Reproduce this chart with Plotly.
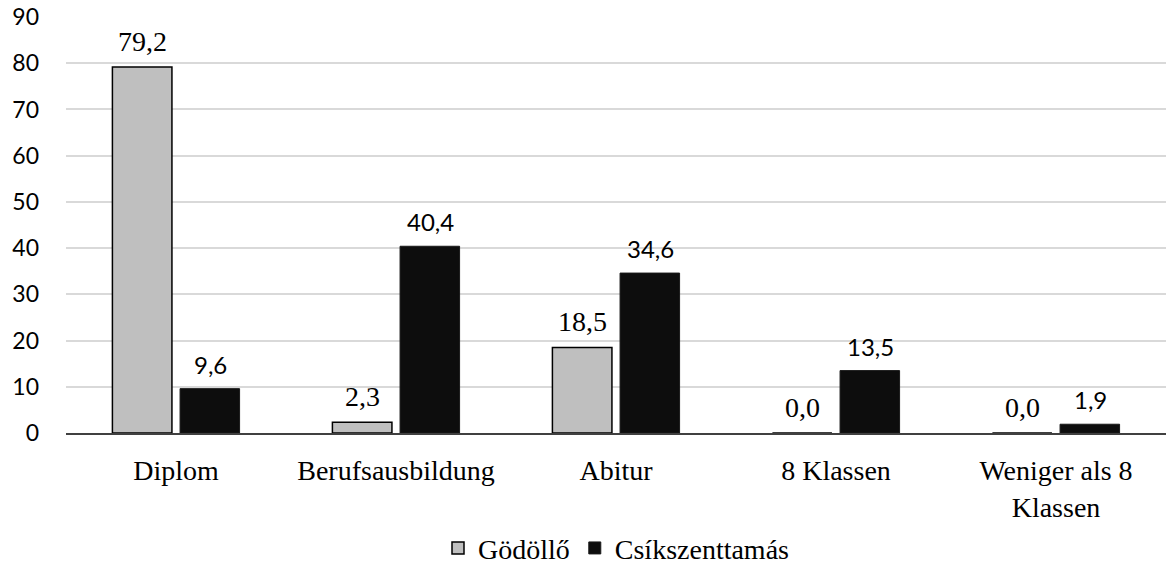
import plotly.graph_objects as go

categories = ["Diplom", "Berufsausbildung", "Abitur", "8 Klassen", "Weniger als 8<br>Klassen"]
godollo = [79.2, 2.3, 18.5, 0.0, 0.0]
csik = [9.6, 40.4, 34.6, 13.5, 1.9]
y_ticks = [0, 10, 20, 30, 40, 50, 60, 70, 80, 90]

serif = "Liberation Serif"
sans = "Lato"

fig = go.Figure()
fig.add_trace(go.Bar(
    name="Gödöllő", x=categories, y=godollo,
    marker=dict(color="#BFBFBF", line=dict(color="#000000", width=1.5)),
))
fig.add_trace(go.Bar(
    name="Csíkszenttamás", x=categories, y=csik,
    marker=dict(color="#0D0D0D", line=dict(color="#1A1A1A", width=1)),
))

# value labels above bars
for cat, val in zip(categories, godollo):
    fig.add_annotation(x=cat, y=val, text=f"{val:.1f}".replace(".", ","),
                       showarrow=False, xshift=-34, yshift=8, yanchor="bottom",
                       font=dict(family=serif, size=28, color="#000000"))
for cat, val in zip(categories, csik):
    fig.add_annotation(x=cat, y=val, text=f"{val:.1f}".replace(".", ","),
                       showarrow=False, xshift=34, yshift=8, yanchor="bottom",
                       font=dict(family=sans, size=24, color="#000000"))

fig.update_layout(
    width=1166, height=566,
    margin=dict(l=66, r=0, t=17, b=133, autoexpand=False),
    paper_bgcolor="white", plot_bgcolor="white",
    font=dict(family=serif),
    separators=", ",
    barmode="group", bargap=0.385, bargroupgap=0.12,
    showlegend=True,
    legend=dict(orientation="h", x=0.5, xanchor="center", y=-0.277, yanchor="middle",
                font=dict(family=serif, size=28, color="#000000"),
                itemwidth=30, traceorder="normal"),
    xaxis=dict(range=[-0.5, 4.5], showgrid=False, showline=True, linecolor="#404040",
               linewidth=1.5, ticks="", tickfont=dict(family=serif, size=28, color="#000000"),
               ticklabelstandoff=12, automargin=False),
    yaxis=dict(range=[0, 90], tickvals=y_ticks, showgrid=True, gridcolor="#D9D9D9",
               gridwidth=1.5, zeroline=False, showline=False, ticks="",
               tickfont=dict(family=sans, size=23, color="#000000"),
               ticklabelstandoff=26, automargin=False),
)

fig.write_html("out.html", config={"displayModeBar": False},
               post_script="document.body.style.margin='0';document.body.style.overflow='hidden';")
